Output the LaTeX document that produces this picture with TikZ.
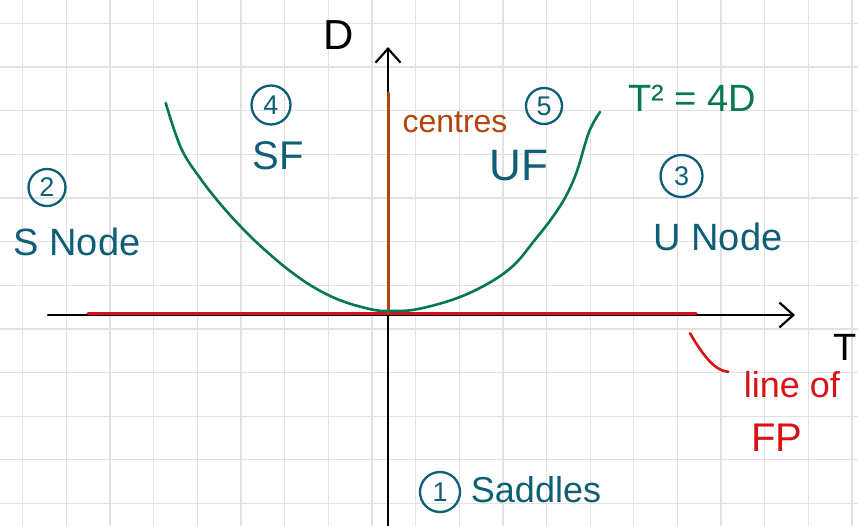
\documentclass[tikz,border=0pt]{standalone}
\usepackage{fontspec}
\setmainfont{Liberation Sans}
\usetikzlibrary{arrows.meta}
\definecolor{tealc}{RGB}{14,94,118}
\definecolor{greenc}{RGB}{6,118,84}
\definecolor{orangec}{RGB}{178,68,12}
\definecolor{redc}{RGB}{218,18,22}
\definecolor{gridc}{RGB}{226,226,226}
\tikzset{
  gridline/.style={draw=gridc, line width=1.3pt},
  axis/.style={draw=black, line width=2.2pt, -{Straight Barb[length=14pt, width=25pt, line width=2.2pt]}},
  lbl/.style={inner sep=0pt, text=tealc, font=\fontsize{38}{40}\selectfont},
  circnum/.style={circle, draw=tealc, line width=2.3pt, inner sep=0pt, text=tealc, font=\fontsize{27}{27}\selectfont},
}
\begin{document}
\begin{tikzpicture}[x=1pt, y=-1pt, line cap=round, line join=round]
\useasboundingbox (0,0) rectangle (858,526);
\fill[white] (0,0) rectangle (858,526);
% grid
\foreach \i in {0,...,19} \draw[gridline] ({22.7+43.65*\i},0) -- ({22.7+43.65*\i},526);
\foreach \j in {0,...,11} \draw[gridline] (0,{23.3+43.65*\j}) -- (858,{23.3+43.65*\j});
% axes
\coordinate (xl) at (48,315);
\coordinate (xr) at (795,315);
\coordinate (yb) at (388,530);
\coordinate (yt) at (388,47);
\draw[axis] (xl) -- (xr);
\draw[axis] (yb) -- (yt);
% line of fixed points
\coordinate (fpl) at (88,313.5);
\coordinate (fpr) at (696,313.5);
\draw[redc, line width=3pt] (fpl) -- (fpr);
% centres
\coordinate (cb) at (388,313);
\coordinate (ct) at (388,93);
\draw[orangec, line width=3pt] (cb) -- (ct);
% parabola T^2 = 4D
\draw[greenc, line width=2.6pt] plot[smooth, tension=0.6] coordinates {
 (165.7,103) (181,148) (200,178) (222,206) (245,231) (266,251)
 (290,271) (315,288) (342,301) (372,309.5) (390,311) (416.7,309.3)
 (456,298.5) (489,283) (514,265) (534,241) (552,218) (566,196)
 (577,171) (589,132) (600,112)};
% axis labels
\node[inner sep=0pt, font=\fontsize{42}{44}\selectfont] (Dl) at (339,35) {D};
\node[inner sep=0pt, font=\fontsize{38}{40}\selectfont] (Tl) at (845,347) {T};
% region labels
\node[inner sep=0pt, text=orangec, font=\fontsize{32}{34}\selectfont] (cen) at (455,122) {centres};
\node[circnum, minimum size=36pt] (n5) at (544,106) {5};
\node[lbl, font=\fontsize{44}{46}\selectfont] (UF) at (519,166) {UF};
\node[circnum, minimum size=39pt] (n4) at (271,105) {4};
\node[lbl, font=\fontsize{40}{42}\selectfont] (SF) at (278,156) {SF};
\node[circnum, minimum size=37pt] (n2) at (47,187.5) {2};
\node[lbl] (SN) at (77,242) {S Node};
\node[inner sep=0pt, text=greenc, font=\fontsize{38}{40}\selectfont] (eq) at (692,98) {T² = 4D};
\node[circnum, minimum size=42pt] (n3) at (681.5,176) {3};
\node[lbl] (UN) at (718,237) {U Node};
\node[circnum, minimum size=40pt] (n1) at (440,492) {1};
\node[lbl, font=\fontsize{36}{38}\selectfont] (Sad) at (536,490) {Saddles};
% line of FP
\node[inner sep=0pt, text=redc, font=\fontsize{36}{38}\selectfont] (lof) at (792,385) {line of};
\node[inner sep=0pt, text=redc, font=\fontsize{40}{42}\selectfont] (FP) at (777,438) {FP};
\coordinate (hk1) at (690,333.3);
\coordinate (hk2) at (728.3,371.7);
\draw[redc, line width=2.6pt] (hk1) .. controls (700,350) and (713,371) .. (hk2);
\end{tikzpicture}
\end{document}
